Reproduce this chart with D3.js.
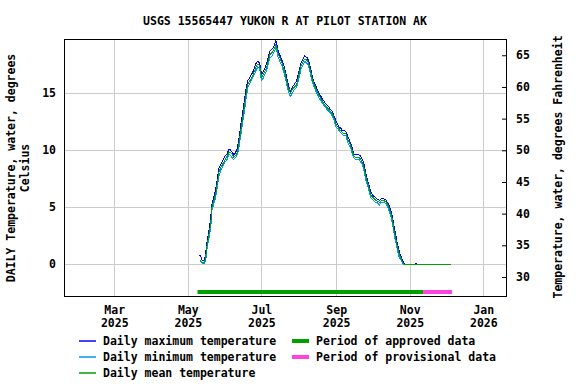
<!DOCTYPE html>
<html>
<head>
<meta charset="utf-8">
<script src="https://cdn.jsdelivr.net/npm/d3@7"></script>
<style>
  body { margin: 0; background: #fff; }
  svg text { font-family: "DejaVu Sans Mono", monospace; font-weight: bold; font-size: 11.5px; fill: #000; }
</style>
</head>
<body>
<svg id="chart" width="576" height="384"></svg>
<script>
"use strict";

// Datos: valores diarios desde el 11 de mayo de 2025
const firstDay = new Date(2025, 4, 11);

const meanTemp = [
  0.4,0.3,0.2,0.15,0.2,0.8,1.7,2.3,2.9,3.6,
  5.0,5.4,5.75,6.1,6.8,7.5,8.15,8.4,8.6,8.8,
  9.0,9.2,9.35,9.55,9.8,9.85,9.75,9.6,9.4,9.5,
  9.6,9.85,10.3,11.0,11.8,12.5,13.2,13.9,14.7,15.4,
  15.9,16.05,16.2,16.4,16.6,16.9,17.15,17.4,17.55,17.5,
  17.2,16.4,16.5,16.75,16.95,17.2,17.5,18.0,18.4,18.5,
  18.6,18.75,19.0,19.3,18.9,18.4,18.2,17.9,17.65,17.3,
  17.0,16.55,16.1,15.6,15.3,15.0,15.2,15.4,15.5,15.6,
  15.7,16.1,16.6,17.0,17.45,17.65,17.85,18.0,17.95,17.85,
  17.65,17.25,16.8,16.35,15.95,15.7,15.45,15.2,15.0,14.75,
  14.6,14.4,14.25,14.05,13.95,13.8,13.7,13.6,13.45,13.3,
  13.15,12.9,12.55,12.25,12.1,11.95,11.8,11.7,11.55,11.5,
  11.5,11.45,11.15,10.85,10.65,10.4,10.05,9.7,9.45,9.4,
  9.4,9.4,9.4,9.25,9.1,8.85,8.5,8.0,7.5,7.15,
  6.75,6.35,6.05,5.9,5.8,5.7,5.6,5.55,5.5,5.4,
  5.55,5.6,5.6,5.55,5.5,5.35,5.15,4.85,4.55,4.2,
  3.65,3.0,2.45,1.95,1.4,1.0,0.7,0.45,0.2,0.05,
  0,0,0,0,0,0,0,0,0,0,
  0,0,0,0,0,0,0,0,0,0,
  0,0,0,0,0,0,0,0,0,0,
  0,0,0,0,0,0,0,0,0
];

const maxTemp = [
  0.8,0.6,0.3,0.3,0.4,1.2,2.0,2.6,3.3,4.2,
  5.3,5.7,6.1,6.5,7.2,7.9,8.5,8.7,8.9,9.1,
  9.3,9.5,9.6,9.8,10.1,10.1,9.9,9.8,9.6,9.7,
  9.9,10.2,10.7,11.5,12.3,13.0,13.7,14.4,15.2,15.8,
  16.2,16.3,16.5,16.7,16.9,17.2,17.5,17.7,17.8,17.7,
  17.4,16.7,16.8,17.0,17.2,17.5,17.8,18.3,18.7,18.8,
  18.9,19.0,19.3,19.6,19.2,18.7,18.4,18.2,17.9,17.6,
  17.3,16.8,16.4,15.9,15.5,15.2,15.4,15.6,15.7,15.9,
  16.0,16.4,16.9,17.3,17.7,17.9,18.1,18.3,18.2,18.1,
  17.9,17.5,17.1,16.6,16.2,15.9,15.7,15.4,15.2,15.0,
  14.8,14.6,14.4,14.3,14.1,14.0,13.9,13.8,13.6,13.5,
  13.4,13.1,12.8,12.5,12.3,12.1,12.0,11.9,11.7,11.7,
  11.7,11.6,11.4,11.1,10.9,10.6,10.3,9.9,9.6,9.6,
  9.6,9.6,9.6,9.5,9.3,9.1,8.8,8.3,7.8,7.4,
  7.0,6.6,6.3,6.1,6.0,5.9,5.8,5.7,5.7,5.6,
  5.7,5.8,5.8,5.7,5.7,5.5,5.4,5.1,4.8,4.5,
  4.0,3.3,2.8,2.2,1.7,1.3,0.9,0.6,0.35,0.1,
  0,0,0,0,0,0,0,0,0,0.1,
  0,0,0,0,0,0,0,0,0,0,
  0,0,0,0,0,0,0,0,0,0,
  0,0,0,0,0,0,0,0,0
];

const minTemp = [
  0.4,0.2,0.1,0.1,0.1,0.5,1.4,2.0,2.6,3.2,
  4.7,5.1,5.5,5.8,6.5,7.2,7.8,8.1,8.4,8.6,
  8.8,9.0,9.1,9.3,9.6,9.6,9.5,9.3,9.2,9.3,
  9.4,9.6,10.0,10.7,11.4,12.1,12.8,13.5,14.3,15.0,
  15.6,15.8,16.0,16.2,16.4,16.6,16.9,17.1,17.3,17.2,
  16.9,16.1,16.2,16.5,16.7,16.9,17.2,17.7,18.1,18.2,
  18.3,18.5,18.7,19.0,18.6,18.1,17.9,17.6,17.4,17.0,
  16.7,16.3,15.8,15.3,15.0,14.7,14.9,15.1,15.3,15.4,
  15.5,15.8,16.3,16.7,17.2,17.4,17.6,17.8,17.7,17.6,
  17.4,17.0,16.5,16.1,15.7,15.5,15.2,15.0,14.8,14.5,
  14.4,14.2,14.1,13.9,13.8,13.6,13.5,13.4,13.3,13.1,
  12.9,12.7,12.3,12.0,11.9,11.8,11.6,11.5,11.4,11.3,
  11.3,11.3,10.9,10.6,10.4,10.2,9.8,9.5,9.3,9.2,
  9.2,9.2,9.2,9.0,8.9,8.6,8.2,7.7,7.2,6.9,
  6.5,6.1,5.8,5.7,5.6,5.5,5.4,5.4,5.3,5.2,
  5.4,5.4,5.4,5.4,5.3,5.2,4.9,4.6,4.3,3.9,
  3.3,2.7,2.1,1.7,1.1,0.7,0.5,0.3,0.1,0.0,
  0,0,0,0,0,0,0,0,0,0,
  0,0,0,0,0,0,0,0,0,0,
  0,0,0,0,0,0,0,0,0,0,
  0,0,0,0,0,0,0,0,0
];

// Periodos de datos
const approvedPeriod = [new Date(2025, 4, 9), new Date(2025, 10, 12)];
const provisionalPeriod = [new Date(2025, 10, 12), new Date(2025, 11, 6)];

// Etiquetas de ejes
const celsiusTicks = [0, 5, 10, 15];
const fahrenheitTicks = [30, 35, 40, 45, 50, 55, 60, 65];
const monthTicks = [
  new Date(2025, 2, 1), new Date(2025, 4, 1), new Date(2025, 6, 1),
  new Date(2025, 8, 1), new Date(2025, 10, 1), new Date(2026, 0, 1)
];

const title = "USGS 15565447 YUKON R AT PILOT STATION AK";

// Dimensiones del área de trazado
const plot = { left: 64, right: 506, top: 39, bottom: 296 };

const x = d3.scaleTime()
  .domain([new Date(2025, 0, 18, 8), new Date(2026, 0, 19, 19)])
  .range([plot.left, plot.right]);

const y = d3.scaleLinear()
  .domain([-2.78, 19.76])
  .range([plot.bottom, plot.top]);

const yF = d3.scaleLinear()
  .domain(y.domain().map((c) => c * 9 / 5 + 32))
  .range([plot.bottom, plot.top]);

const svg = d3.select("#chart");

// Título
svg.append("text")
  .attr("x", 285)
  .attr("y", 25)
  .attr("text-anchor", "middle")
  .text(title);

// Rejilla
svg.append("g")
  .selectAll("line")
  .data(monthTicks)
  .join("line")
  .attr("x1", (d) => Math.round(x(d)) + 0.5)
  .attr("x2", (d) => Math.round(x(d)) + 0.5)
  .attr("y1", plot.top)
  .attr("y2", plot.bottom)
  .attr("stroke", "#cccccc");

svg.append("g")
  .selectAll("line")
  .data(celsiusTicks)
  .join("line")
  .attr("x1", plot.left)
  .attr("x2", plot.right)
  .attr("y1", (d) => Math.round(y(d)) + 0.5)
  .attr("y2", (d) => Math.round(y(d)) + 0.5)
  .attr("stroke", "#cccccc");

// Eje izquierdo (Celsius)
svg.append("g")
  .attr("transform", `translate(${plot.left},0)`)
  .call(d3.axisLeft(y).tickValues(celsiusTicks).tickSize(0).tickPadding(8))
  .call((g) => g.select(".domain").remove())
  .call((g) => g.selectAll("text").style("font-family", null).style("font-size", null));

// Eje derecho (Fahrenheit)
svg.append("g")
  .attr("transform", `translate(${plot.right},0)`)
  .call(d3.axisRight(yF).tickValues(fahrenheitTicks).tickSizeInner(-4).tickSizeOuter(0).tickPadding(10))
  .call((g) => g.select(".domain").remove())
  .call((g) => g.selectAll("line").attr("stroke", "#000"))
  .call((g) => g.selectAll("text").style("font-family", null).style("font-size", null));

// Eje inferior (meses)
const xAxis = svg.append("g")
  .attr("transform", `translate(0,${plot.bottom})`)
  .call(d3.axisBottom(x).tickValues(monthTicks).tickSize(0).tickPadding(0).tickFormat(() => ""))
  .call((g) => g.select(".domain").remove());

xAxis.selectAll(".tick text").each(function (d) {
  const t = d3.select(this).attr("y", 0).attr("dy", null);
  t.append("tspan").attr("x", 0).attr("y", 18).text(d3.timeFormat("%b")(d));
  t.append("tspan").attr("x", 0).attr("y", 31).text(d3.timeFormat("%Y")(d));
});
xAxis.selectAll("text").style("font-family", null).style("font-size", null);

// Títulos de los ejes
svg.append("text")
  .attr("transform", "translate(15,168) rotate(-90)")
  .attr("text-anchor", "middle")
  .text("DAILY Temperature, water, degrees");
svg.append("text")
  .attr("transform", "translate(29,168) rotate(-90)")
  .attr("text-anchor", "middle")
  .text("Celsius");
svg.append("text")
  .attr("transform", "translate(562,167) rotate(-90)")
  .attr("text-anchor", "middle")
  .text("Temperature, water, degrees Fahrenheit");

// Recorte
svg.append("clipPath").attr("id", "clip")
  .append("rect")
  .attr("x", plot.left).attr("y", plot.top)
  .attr("width", plot.right - plot.left).attr("height", plot.bottom - plot.top);

// Líneas de datos
const line = d3.line()
  .x((d, i) => x(d3.timeDay.offset(firstDay, i)))
  .y((d) => y(d));

const series = [
  { values: maxTemp, color: "#0000ff" },
  { values: minTemp, color: "#0099ee" },
  { values: meanTemp, color: "#00a000" }
];

svg.append("g")
  .attr("clip-path", "url(#clip)")
  .selectAll("path")
  .data(series)
  .join("path")
  .attr("fill", "none")
  .attr("stroke", (d) => d.color)
  .attr("stroke-width", 1)
  .attr("shape-rendering", "crispEdges")
  .attr("d", (d) => line(d.values));

// Barras de periodo
const periods = [
  { range: approvedPeriod, color: "#00a000" },
  { range: provisionalPeriod, color: "#ff44dd" }
];
svg.append("g")
  .selectAll("line")
  .data(periods)
  .join("line")
  .attr("x1", (d) => x(d.range[0]))
  .attr("x2", (d) => x(d.range[1]))
  .attr("y1", 292)
  .attr("y2", 292)
  .attr("stroke", (d) => d.color)
  .attr("stroke-width", 4);

// Marco
svg.append("rect")
  .attr("x", plot.left + 0.5)
  .attr("y", plot.top + 0.5)
  .attr("width", plot.right - plot.left)
  .attr("height", plot.bottom - plot.top)
  .attr("fill", "none")
  .attr("stroke", "#000");

// Leyenda
const legendLines = [
  { label: "Daily maximum temperature", color: "#0000ff", width: 1.5, col: 0, row: 0 },
  { label: "Daily minimum temperature", color: "#0099ee", width: 1.5, col: 0, row: 1 },
  { label: "Daily mean temperature", color: "#00a000", width: 1.5, col: 0, row: 2 },
  { label: "Period of approved data", color: "#00a000", width: 4, col: 1, row: 0 },
  { label: "Period of provisional data", color: "#ff44dd", width: 4, col: 1, row: 1 }
];
const colX = [79, 292];
const legend = svg.append("g")
  .selectAll("g")
  .data(legendLines)
  .join("g")
  .attr("transform", (d) => `translate(${colX[d.col]},${341 + d.row * 16})`);

legend.append("line")
  .attr("x1", 0).attr("x2", 17)
  .attr("stroke", (d) => d.color)
  .attr("stroke-width", (d) => d.width);

legend.append("text")
  .attr("x", 24)
  .attr("y", 4)
  .text((d) => d.label);
</script>
</body>
</html>
